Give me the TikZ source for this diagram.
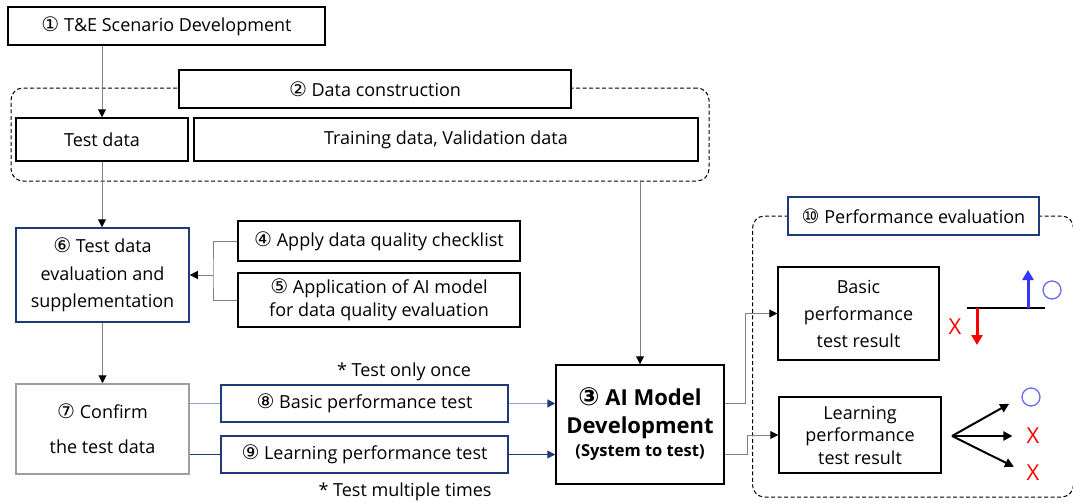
\documentclass[tikz,border=0pt]{standalone}
\usepackage{fontspec}
\setmainfont{Open Sans}
\newfontfamily\symfont{DejaVu Sans}
\usetikzlibrary{positioning, arrows.meta}

\definecolor{navy}{HTML}{1F3A78}
\definecolor{steel}{HTML}{8FA2C4}
\definecolor{linegray}{HTML}{808080}
\definecolor{markblue}{HTML}{3535FF}
\definecolor{ringblue}{HTML}{6A6AF0}

\newcommand{\cn}[1]{{\symfont\fontsize{20}{20}\selectfont #1}}

\begin{document}
\begin{tikzpicture}[
        x=1pt, y=-1pt,
        every node/.style={font=\fontsize{18}{22}\selectfont},
        box/.style={rectangle, draw=black, line width=1.5pt, fill=white, align=center, inner sep=0pt},
        bluebox/.style={box, draw=navy},
        graybox/.style={box, draw=gray!75},
        group/.style={rectangle, draw=black, dashed, dash pattern=on 4pt off 2.5pt, line width=1pt, rounded corners=12pt, inner sep=0pt},
        line/.style={draw=linegray, line width=1pt},
        arrow/.style={line, -{Triangle[length=8pt, width=8pt, color=black]}},
        steelarrow/.style={draw=steel, line width=1.5pt, -{Triangle[length=8pt, width=8pt, color=navy]}},
        navyarrow/.style={draw=navy, line width=1pt, -{Triangle[length=8pt, width=8pt, color=navy]}},
        bigarrow/.style={line width=3pt, -{Triangle[length=10pt, width=11pt]}},
        fanarrow/.style={line width=2pt, -{Triangle[length=9pt, width=9pt]}, shorten >=14pt},
        pass/.style={circle, draw=ringblue, line width=1.3pt, minimum size=18pt, inner sep=0pt},
        fail/.style={text=red, inner sep=0pt, font=\fontsize{22}{22}\selectfont}
    ]
    \useasboundingbox (0,0) rectangle (1073,503);

    % Groups
    \node (data_group) [group, minimum width=698, minimum height=93] at (360,134.5) {};
    \node (perf_group) [group, minimum width=321, minimum height=281] at (913,356.5) {};

    % Nodes
    \node (scenario) [box, minimum width=317, minimum height=38] at (166.5,26) {\cn{①} T\&E Scenario Development};
    \node (data_title) [box, minimum width=392, minimum height=38] at (375,89) {\cn{②} Data construction};
    \node (test_data) [box, minimum width=172, minimum height=43] at (102,139.5) {Test data};
    \node (train_data) [box, minimum width=504, minimum height=43] at (446,139.5) {Training data, Validation data};

    \node (test_eval) [bluebox, minimum width=173, minimum height=94, font=\fontsize{18}{27.5}\selectfont] at (102.5,275) {\cn{⑥} Test data\\evaluation and\\supplementation};
    \node (checklist) [box, minimum width=282, minimum height=40] at (379,241) {\cn{④} Apply data quality checklist};
    \node (ai_quality) [box, minimum width=282, minimum height=54, font=\fontsize{18}{23}\selectfont] at (379,300) {\cn{⑤} Application of AI model\\for data quality evaluation};

    \node (confirm) [graybox, minimum width=173, minimum height=90, font=\fontsize{18}{35}\selectfont] at (102.5,429) {\cn{⑦} Confirm\\the test data};
    \node (basic_test) [bluebox, minimum width=287, minimum height=37] at (364.5,403.5) {\cn{⑧} Basic performance test};
    \node (learning_test) [bluebox, minimum width=287, minimum height=37] at (364.5,454.5) {\cn{⑨} Learning performance test};
    \node (note_once) at (404,372) {* Test only once};
    \node (note_multi) at (405,492) {* Test multiple times};

    \node (ai_model) [box, minimum width=168, minimum height=119, font=\bfseries\fontsize{22}{28}\selectfont] at (640,424.5) {{\symfont\bfseries\fontsize{25}{25}\selectfont ③} AI Model\\Development\\[-5pt]{\fontsize{16.5}{18}\selectfont (System to test)}};

    \node (perf_title) [bluebox, minimum width=251, minimum height=38] at (913.5,216) {\cn{⑩} Performance evaluation};
    \node (basic_result) [box, minimum width=161, minimum height=93, font=\fontsize{18}{27}\selectfont] at (858.5,313.5) {Basic\\performance\\test result};
    \node (learning_result) [box, minimum width=162, minimum height=76, font=\fontsize{18}{22.5}\selectfont] at (860,435) {Learning\\performance\\test result};

    % Marks
    \coordinate (base_left) at (967,308);
    \coordinate (base_right) at (1045,308);
    \node (basic_pass) [pass] at (1052,290) {};
    \node (basic_fail) [fail] at (955,327) {X};
    \coordinate (fan) at (952,436);
    \node (learn_pass) [pass] at (1031,397) {};
    \node (learn_fail_a) [fail] at (1033,436) {X};
    \node (learn_fail_b) [fail] at (1033,473) {X};

    % Arrows
    \draw [arrow] (scenario.south -| test_data.north) -- (test_data.north);
    \draw [arrow] (test_data.south) -- (test_data.south |- test_eval.north);
    \coordinate (merge) at (213,275);
    \draw [line] (checklist.west) -| (merge) |- (ai_quality.west);
    \draw [arrow] (merge) -- (test_eval.east);
    \draw [arrow] (test_eval.south) -- (test_eval.south |- confirm.north);
    \draw [draw=steel, line width=1.5pt] (confirm.east |- basic_test.west) -- (basic_test.west);
    \draw [draw=navy, line width=1pt] (confirm.east |- learning_test.west) -- (learning_test.west);
    \draw [steelarrow] (basic_test.east) -- (basic_test.east -| ai_model.west);
    \draw [navyarrow] (learning_test.east) -- (learning_test.east -| ai_model.west);
    \draw [arrow] (data_group.south -| ai_model.north) -- (ai_model.north);
    \draw [arrow] (ai_model.east |- basic_test.east) -- ++(21,0) |- (basic_result.west);
    \draw [arrow] (ai_model.east |- learning_test.east) -- ++(23,0) |- (learning_result.west);

    \draw [line width=2pt] (base_left) -- (base_right);
    \draw [bigarrow, markblue] (base_right) ++(-17,0) -- ++(0,-38);
    \draw [bigarrow, red] (base_left) ++(10,0) -- ++(0,37);
    \draw [fanarrow] (fan) -- (learn_pass.west);
    \draw [fanarrow] (fan) -- (learn_fail_a.west);
    \draw [fanarrow] (fan) -- (learn_fail_b.west);

\end{tikzpicture}
\end{document}
